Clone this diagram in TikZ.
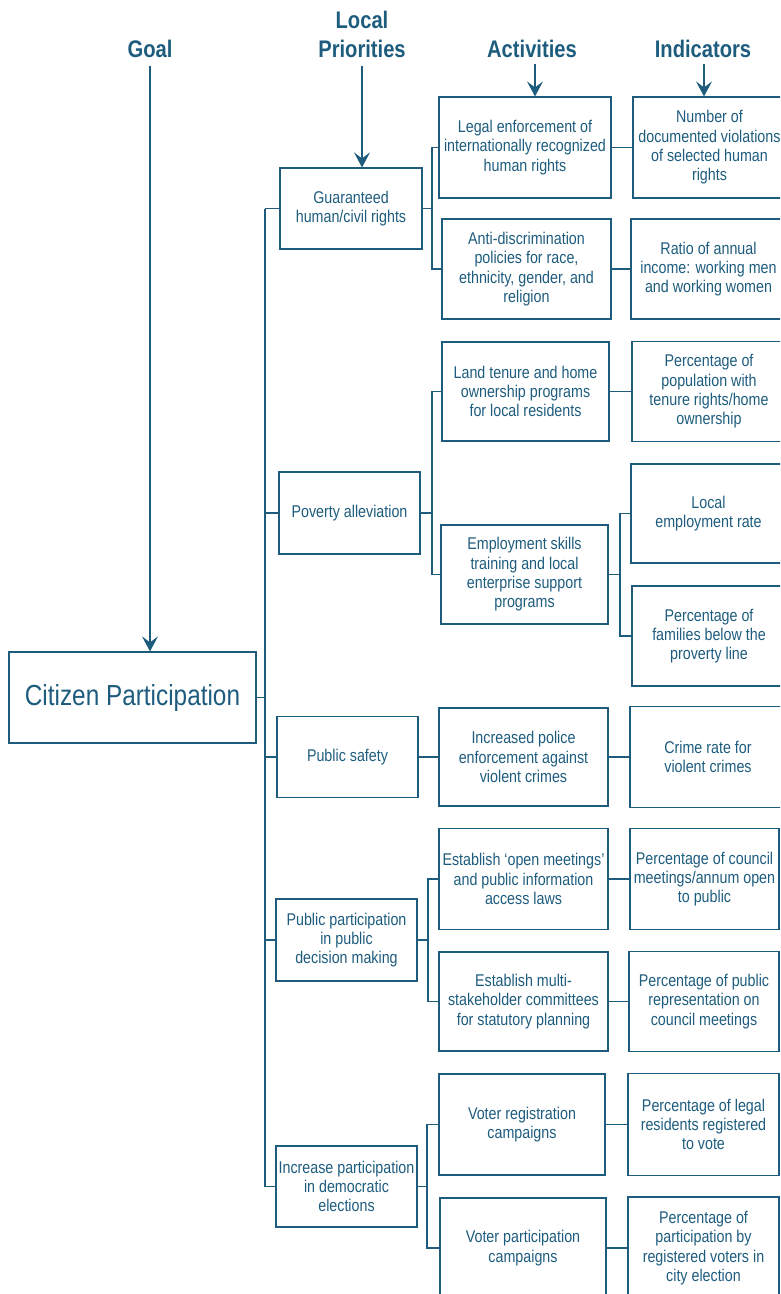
\documentclass[tikz,border=0pt]{standalone}
\usepackage{fontspec}
\setmainfont[FakeStretch=0.84]{Liberation Sans}
\usetikzlibrary{arrows.meta}
\definecolor{ink}{HTML}{1E5C7E}
\begin{document}
\begin{tikzpicture}[x=1pt,y=-1pt,
  box/.style={draw=ink, line width=1.2pt, align=center, inner sep=0pt, text=ink, font=\fontsize{17}{19.3}\selectfont},
  sz/.style 2 args={minimum width=#1, minimum height=#2},
  head/.style={text=ink, font=\fontsize{24}{29}\selectfont\bfseries, align=center, inner sep=0pt, anchor=south},
  link/.style={draw=ink, line width=1.2pt},
  arr/.style={link, -{Stealth[length=15pt,width=16pt,inset=6pt]}},
]
\useasboundingbox (0,0) rectangle (780,1294);
\clip (0,0) rectangle (780,1294);

% headings
\node[head] (hGoal) at (150,58) {Goal};
\node[head] (hPri) at (362,58) {Local\\Priorities};
\node[head] (hAct) at (532,58) {Activities};
\node[head] (hInd) at (703,58) {Indicators};

% goal
\node[box, sz={247pt}{91pt}, font=\fontsize{29}{34}\selectfont] (cit) at (132.5,697.5) {Citizen Participation};

% priorities
\node[box, sz={142pt}{81pt}] (P1) at (351,208.5) {Guaranteed\\human/civil rights};
\node[box, sz={141pt}{82pt}] (P2) at (349.5,513) {Poverty alleviation};
\node[box, sz={141pt}{81pt}] (P3) at (347.5,757) {Public safety};
\node[box, sz={141pt}{82pt}] (P4) at (346.5,940) {Public participation\\in public\\decision making};
\node[box, sz={141pt}{81pt}] (P5) at (346.5,1186.5) {Increase participation\\in democratic\\elections};

% activities
\node[box, sz={172pt}{101pt}] (A1) at (525,147.5) {Legal enforcement of\\internationally recognized\\human rights};
\node[box, sz={169pt}{100pt}] (A2) at (526.5,269) {Anti-discrimination\\policies for race,\\ethnicity, gender, and\\religion};
\node[box, sz={167pt}{99pt}] (A3) at (525.5,391.5) {Land tenure and home\\ownership programs\\for local residents};
\node[box, sz={167pt}{99pt}] (A4) at (524.5,574.5) {Employment skills\\training and local\\enterprise support\\programs};
\node[box, sz={169pt}{98pt}] (A5) at (523.5,757) {Increased police\\enforcement against\\violent crimes};
\node[box, sz={169pt}{101pt}] (A6) at (523.5,879) {Establish `open meetings'\\and public information\\access laws};
\node[box, sz={169pt}{99pt}] (A7) at (523.5,1001.5) {Establish multi-\\stakeholder committees\\for statutory planning};
\node[box, sz={166pt}{101pt}] (A8) at (522,1124.5) {Voter registration\\campaigns};
\node[box, sz={166pt}{100pt}] (A9) at (523,1248) {Voter participation\\campaigns};

% indicators
\node[box, sz={153pt}{101pt}] (I1) at (709.5,147.5) {Number of\\documented violations\\of selected human\\rights};
\node[box, sz={155pt}{100pt}] (I2) at (708.5,269) {Ratio of annual\\income: working men\\and working women};
\node[box, sz={154pt}{100pt}] (I3) at (709,391.5) {Percentage of\\population with\\tenure rights/home\\ownership};
\node[box, sz={155pt}{99pt}] (I4) at (708.5,513.5) {Local\\employment rate};
\node[box, sz={154pt}{100pt}] (I5) at (709,636) {Percentage of\\families below the\\proverty line};
\node[box, sz={156pt}{101pt}] (I6) at (708,757) {Crime rate for\\violent crimes};
\node[box, sz={149pt}{101pt}] (I7) at (704.5,879) {Percentage of council\\meetings/annum open\\to public};
\node[box, sz={150pt}{100pt}] (I8) at (704,1001.5) {Percentage of public\\representation on\\council meetings};
\node[box, sz={151pt}{102pt}] (I9) at (703.5,1124.5) {Percentage of legal\\residents registered\\to vote};
\node[box, sz={151pt}{102pt}] (I10) at (703.5,1248) {Percentage of\\participation by\\registered voters in\\city election};

% heading arrows
\draw[arr] ([yshift=-8pt]hGoal.south) -- (hGoal.south |- cit.north);
\draw[arr] ([yshift=-8pt]hPri.south) -- (hPri.south |- P1.north);
\draw[arr] ([xshift=3pt,yshift=-6pt]hAct.south) -- ([xshift=3pt]hAct.south |- A1.north);
\draw[arr] ([xshift=1pt,yshift=-6pt]hInd.south) -- ([xshift=1pt]hInd.south |- I1.north);

% spine
\coordinate (sp) at (265,0);
\draw[link] (cit.east) -- (cit.east -| sp);
\draw[link] (P1.west -| sp) -- (P5.west -| sp);
\foreach \p in {P1,P2,P3,P4,P5} \draw[link] (\p.west -| sp) -- (\p.west);

% branch coordinates
\coordinate (b1) at (432,0);
\coordinate (b2) at (432,0);
\coordinate (b4) at (428,0);
\coordinate (b5) at (427,0);
\coordinate (bE) at (620,0);

% priority -> activities
\draw[link] (P1.east) -- (P1.east -| b1);
\draw[link] (A1.west) -| (b1 |- A2.west) -- (A2.west);
\draw[link] (P2.east) -- (P2.east -| b2);
\draw[link] (A3.west) -| (b2 |- A4.west) -- (A4.west);
\draw[link] (P3.east) -- (A5.west);
\draw[link] (P4.east) -- (P4.east -| b4);
\draw[link] (A6.west) -| (b4 |- A7.west) -- (A7.west);
\draw[link] (P5.east) -- (P5.east -| b5);
\draw[link] (A8.west) -| (b5 |- A9.west) -- (A9.west);

% activities -> indicators
\draw[link] (A1.east) -- (I1.west);
\draw[link] (A2.east) -- (I2.west);
\draw[link] (A3.east) -- (I3.west);
\draw[link] (A4.east) -- (A4.east -| bE);
\draw[link] (I4.west) -| (bE |- I5.west) -- (I5.west);
\draw[link] (A5.east) -- (I6.west);
\draw[link] (A6.east) -- (I7.west);
\draw[link] (A7.east) -- (I8.west);
\draw[link] (A8.east) -- (I9.west);
\draw[link] (A9.east) -- (I10.west);
\end{tikzpicture}
\end{document}
